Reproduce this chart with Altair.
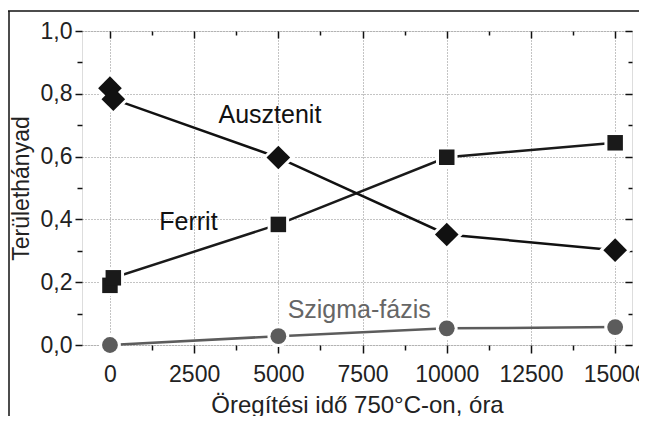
import altair as alt
import pandas as pd

# ---- data ----
time_main = [0, 100, 5000, 10000, 15000]
austenite = [0.818, 0.783, 0.597, 0.352, 0.302]
ferrite = [0.190, 0.214, 0.384, 0.598, 0.644]
time_sigma = [0, 5000, 10000, 15000]
sigma = [0.0, 0.028, 0.053, 0.057]

x_major = [0, 2500, 5000, 7500, 10000, 12500, 15000]
x_minor = [1250, 3750, 6250, 8750, 11250, 13750]
y_major = [0.0, 0.2, 0.4, 0.6, 0.8, 1.0]
y_minor = [0.1, 0.3, 0.5, 0.7, 0.9]

labels = ["Ausztenit", "Ferrit", "Szigma-fázis"]
label_x = [4750, 2330, 7400]
label_y = [0.707, 0.365, 0.086]
label_color = ["#111111", "#111111", "#666666"]

FONT = "Liberation Sans"
W, H = 550, 314

aus = pd.DataFrame({"t": time_main, "v": austenite})
fer = pd.DataFrame({"t": time_main, "v": ferrite})
sig = pd.DataFrame({"t": time_sigma, "v": sigma})
lab = pd.DataFrame({"text": labels, "t": label_x, "v": label_y, "c": label_color})
one = pd.DataFrame({"k": [0]})

xs = alt.Scale(domain=[-830, 15500], nice=False, zero=False)
ys = alt.Scale(domain=[0, 1.0], nice=False)

x_major_test = "datum.value % 2500 === 0"
y_major_test = "round(datum.value * 10) % 2 === 0"

x_axis_main = alt.Axis(
    orient="bottom", values=x_major + x_minor, domain=False, format="d",
    labelExpr=f"{x_major_test} ? datum.label : ''", labelOverlap=False,
    tickSize={"condition": {"test": x_major_test, "value": 8}, "value": 5},
    tickColor="#111", tickWidth=1.5,
    grid=True, gridDash=[1, 2], gridColor="#888",
    gridOpacity={"condition": {"test": x_major_test, "value": 1}, "value": 0},
    labelFontSize=23, labelPadding=10, labelColor="#222",
    title="Öregítési idő 750°C-on, óra", titleFontSize=24, titleFontWeight="normal",
    titlePadding=7, titleColor="#222",
)
y_axis_main = alt.Axis(
    orient="left", values=y_major + y_minor, domain=False,
    labelExpr=f"{y_major_test} ? replace(format(datum.value, '.1f'), '.', ',') : ''",
    labelOverlap=False,
    tickSize={"condition": {"test": y_major_test, "value": 7}, "value": 5},
    tickColor="#111", tickWidth=1.5,
    grid=True, gridDash=[1, 2], gridColor="#888",
    gridOpacity={"condition": {"test": y_major_test, "value": 1}, "value": 0},
    labelFontSize=23, labelPadding=3, labelColor="#222",
    title="Területhányad", titleFontSize=23, titleFontWeight="normal",
    titlePadding=7, titleColor="#222",
)

def tick_axis(orient, values, size):
    return alt.Axis(orient=orient, values=values, domain=False, labels=False,
                    grid=False, title=None, tickSize=size, offset=-size,
                    tickColor="#111", tickWidth=1.5)

base_axes = alt.Chart(aus).mark_point(opacity=0).encode(
    x=alt.X("t:Q", scale=xs, axis=x_axis_main),
    y=alt.Y("v:Q", scale=ys, axis=y_axis_main),
)
top_right_major = alt.Chart(aus).mark_point(opacity=0).encode(
    x=alt.X("t:Q", scale=xs, axis=tick_axis("top", x_major, 7)),
    y=alt.Y("v:Q", scale=ys, axis=tick_axis("right", y_major, 7)),
)
top_right_minor = alt.Chart(aus).mark_point(opacity=0).encode(
    x=alt.X("t:Q", scale=xs, axis=tick_axis("top", x_minor, 4)),
    y=alt.Y("v:Q", scale=ys, axis=tick_axis("right", y_minor, 4)),
)

def enc():
    return dict(x=alt.X("t:Q", scale=xs, axis=None), y=alt.Y("v:Q", scale=ys, axis=None))

def series(df, shape, size, color):
    line = alt.Chart(df).mark_line(color=color, strokeWidth=2.5).encode(**enc())
    halo = alt.Chart(df).mark_point(shape=shape, size=size, filled=True, fill="white",
                                    opacity=1, stroke="white", strokeWidth=6).encode(**enc())
    pts = alt.Chart(df).mark_point(shape=shape, size=size, filled=True, fill=color,
                                   opacity=1, strokeWidth=0).encode(**enc())
    return [line, halo, pts]

layers = []
layers += series(sig, "circle", 250, "#5c5c5c")
layers += series(fer, "square", 240, "#1a1a1a")
layers += series(aus, "diamond", 560, "#111111")

texts = alt.Chart(lab).mark_text(font=FONT, fontSize=25, align="center",
                                 baseline="alphabetic").encode(
    x=alt.X("t:Q", scale=xs, axis=None),
    y=alt.Y("v:Q", scale=ys, axis=None),
    text="text:N",
    color=alt.Color("c:N", scale=None, legend=None),
)

frame_top = alt.Chart(one).mark_rule(color="#111", strokeWidth=1.5).encode(
    x=alt.value(-74), x2=alt.value(W + 10), y=alt.value(-20))
frame_left = alt.Chart(one).mark_rule(color="#111", strokeWidth=1.5).encode(
    x=alt.value(-73), y=alt.value(-20), y2=alt.value(H + 80))

chart = alt.layer(
    base_axes, top_right_major, top_right_minor, *layers, texts, frame_top, frame_left
).resolve_axis(
    x="independent", y="independent"
).properties(
    width=W, height=H,
    autosize=alt.AutoSizeParams(type="none"),
    padding={"left": 74, "top": 23, "right": 7, "bottom": 71},
).configure_view(
    stroke="#111", strokeWidth=2
).configure_axis(
    labelFont=FONT, titleFont=FONT
).configure(background="white")

chart.save("out.html", embed_options={"renderer": "svg", "actions": False})
